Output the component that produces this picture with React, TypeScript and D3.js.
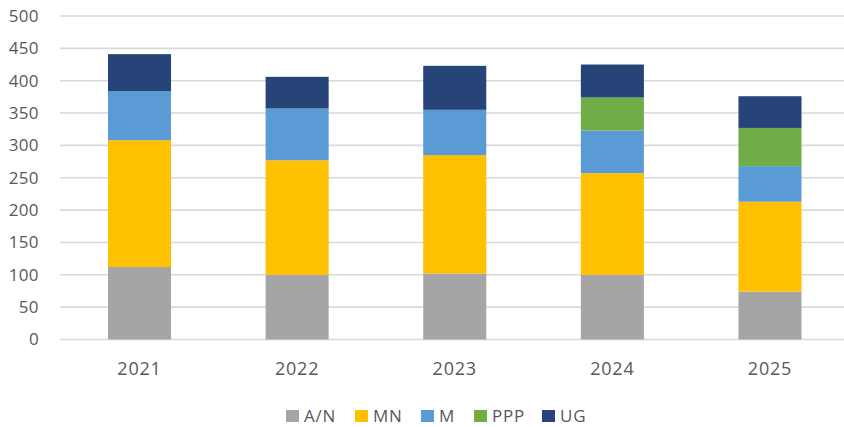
import React from "react";
import * as d3 from "d3";

const years = ["2021", "2022", "2023", "2024", "2025"];
const seriesNames = ["A/N", "MN", "M", "PPP", "UG"];
const seriesColors = ["#A5A5A5", "#FFC000", "#5B9BD5", "#70AD47", "#264478"];
const valuesAN = [112, 100, 102, 100, 74];
const valuesMN = [196, 177, 183, 157, 139];
const valuesM = [76, 80, 70, 66, 55];
const valuesPPP = [0, 0, 0, 51, 59];
const valuesUG = [57, 49, 68, 51, 49];
const yTicks = [0, 50, 100, 150, 200, 250, 300, 350, 400, 450, 500];

const W = 844;
const H = 427;

export default function App() {
  const seriesValues = [valuesAN, valuesMN, valuesM, valuesPPP, valuesUG];
  const rows = years.map((y, i) => {
    const r: any = { year: y };
    seriesNames.forEach((s, k) => (r[s] = seriesValues[k][i]));
    return r;
  });
  const stacked = d3.stack().keys(seriesNames)(rows);

  const x = d3.scaleBand().domain(years).range([60.7, 848.8]).paddingInner(0.6).paddingOuter(0.3);
  const y = d3.scaleLinear().domain([0, 500]).range([339.5, 16]);

  const font = "'Open Sans', 'Liberation Sans', sans-serif";
  const legendX = [286, 355, 421, 474, 542];

  return (
    <svg width={W} height={H} style={{ position: "absolute", left: 0, top: 0, background: "#fff" }}>
      {yTicks.map((t) => (
        <g key={t}>
          <line x1={60} x2={W} y1={y(t)} y2={y(t)} stroke="#D9D9D9" strokeWidth={1.6} />
          <text x={39} y={y(t)} dy="0.35em" textAnchor="end" fontFamily={font} fontSize={17} letterSpacing={0.4} fill="#595959">
            {t}
          </text>
        </g>
      ))}
      {stacked.map((layer, k) => (
        <g key={layer.key} fill={seriesColors[k]}>
          {layer.map((d, i) =>
            d[1] - d[0] > 0 ? (
              <rect
                key={i}
                x={x(years[i])!}
                width={x.bandwidth()}
                y={y(d[1])}
                height={y(d[0]) - y(d[1])}
              />
            ) : null
          )}
        </g>
      ))}
      {years.map((yr) => (
        <text
          key={yr}
          x={x(yr)! + x.bandwidth() / 2}
          y={375}
          textAnchor="middle"
          fontFamily={font}
          fontSize={18}
          letterSpacing={0.8}
          fill="#595959"
        >
          {yr}
        </text>
      ))}
      {seriesNames.map((s, k) => (
        <g key={s} transform={`translate(${legendX[k]},${416})`}>
          <rect x={0} y={-6} width={13} height={12} fill={seriesColors[k]} />
          <text x={18} y={0} dy="0.35em" fontFamily={font} fontSize={17} letterSpacing={0.8} fill="#595959">
            {s}
          </text>
        </g>
      ))}
    </svg>
  );
}
